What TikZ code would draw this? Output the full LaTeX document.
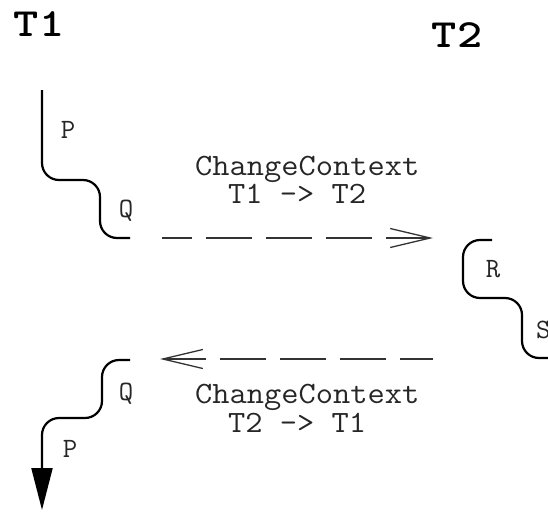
\documentclass[tikz,border=0pt]{standalone}
\usetikzlibrary{arrows.meta}
\begin{document}
\begin{tikzpicture}[x=1pt,y=-1pt,
  thread/.style={line width=2.2pt,rounded corners=17pt},
  switch/.style={line width=1.4pt,black!80,dash pattern=on 46pt off 14pt},
  swbarb/.tip={Straight Barb[length=40pt,width=19pt,line width=1.3pt]},
  title/.style={anchor=base,inner sep=0pt,font=\ttfamily\bfseries\fontsize{40}{40}\selectfont,xscale=1.2},
  seg/.style={anchor=base,inner sep=0pt,text=black!85,font=\ttfamily\fontsize{28}{28}\selectfont},
  note/.style={anchor=base west,inner sep=0pt,text=black!85,font=\ttfamily\fontsize{31}{31}\selectfont,xscale=1.08}]
  \fill[white] (0,0) rectangle (548,511);
  \useasboundingbox (0,0) rectangle (548,511);

  % thread names
  \node[title] (t1) at (39,37) {T1};
  \node[title] (t2) at (457,48) {T2};

  % T1 runs P then Q
  \coordinate (t1start) at (42,90);
  \coordinate (t1stop) at (130,238);
  \draw[thread] (t1start) -- (42,180) -- (100,180) -- (100,238) -- (t1stop);
  \node[seg] (p1) at (68,138) {P};
  \node[seg] (q1) at (126,217) {Q};

  % switch T1 -> T2
  \coordinate (s1a) at (162,238);
  \coordinate (s1b) at (433,238);
  \draw[switch,dash phase=16pt,-{swbarb}] (s1a) -- (s1b);
  \node[note] (c1) at (195,175) {ChangeContext};
  \node[note] (c1b) at (228,203) {T1 -> T2};

  % T2 runs R then S
  \coordinate (t2start) at (492,240);
  \coordinate (t2stop) at (560,358);
  \draw[thread] (t2start) -- (463,240) -- (463,298) -- (522,298) -- (522,358) -- (t2stop);
  \node[seg] (r2) at (493,277) {R};
  \node[seg,anchor=base west] (s2) at (536,338) {S};

  % switch T2 -> T1
  \coordinate (s2a) at (433,359);
  \coordinate (s2b) at (160,359);
  \draw[switch,dash phase=13pt,-{swbarb}] (s2a) -- (s2b);
  \node[note] (c2) at (195,403) {ChangeContext};
  \node[note] (c2b) at (228,432) {T2 -> T1};

  % T1 resumes with Q then P
  \coordinate (t1back) at (130,360);
  \coordinate (t1end) at (42,510);
  \draw[thread,-{Triangle[length=42pt,width=21pt]}] (t1back) -- (102,360) -- (102,418) -- (42,418) -- (t1end);
  \node[seg] (q3) at (126,400) {Q};
  \node[seg] (p3) at (70,457) {P};
\end{tikzpicture}
\end{document}
